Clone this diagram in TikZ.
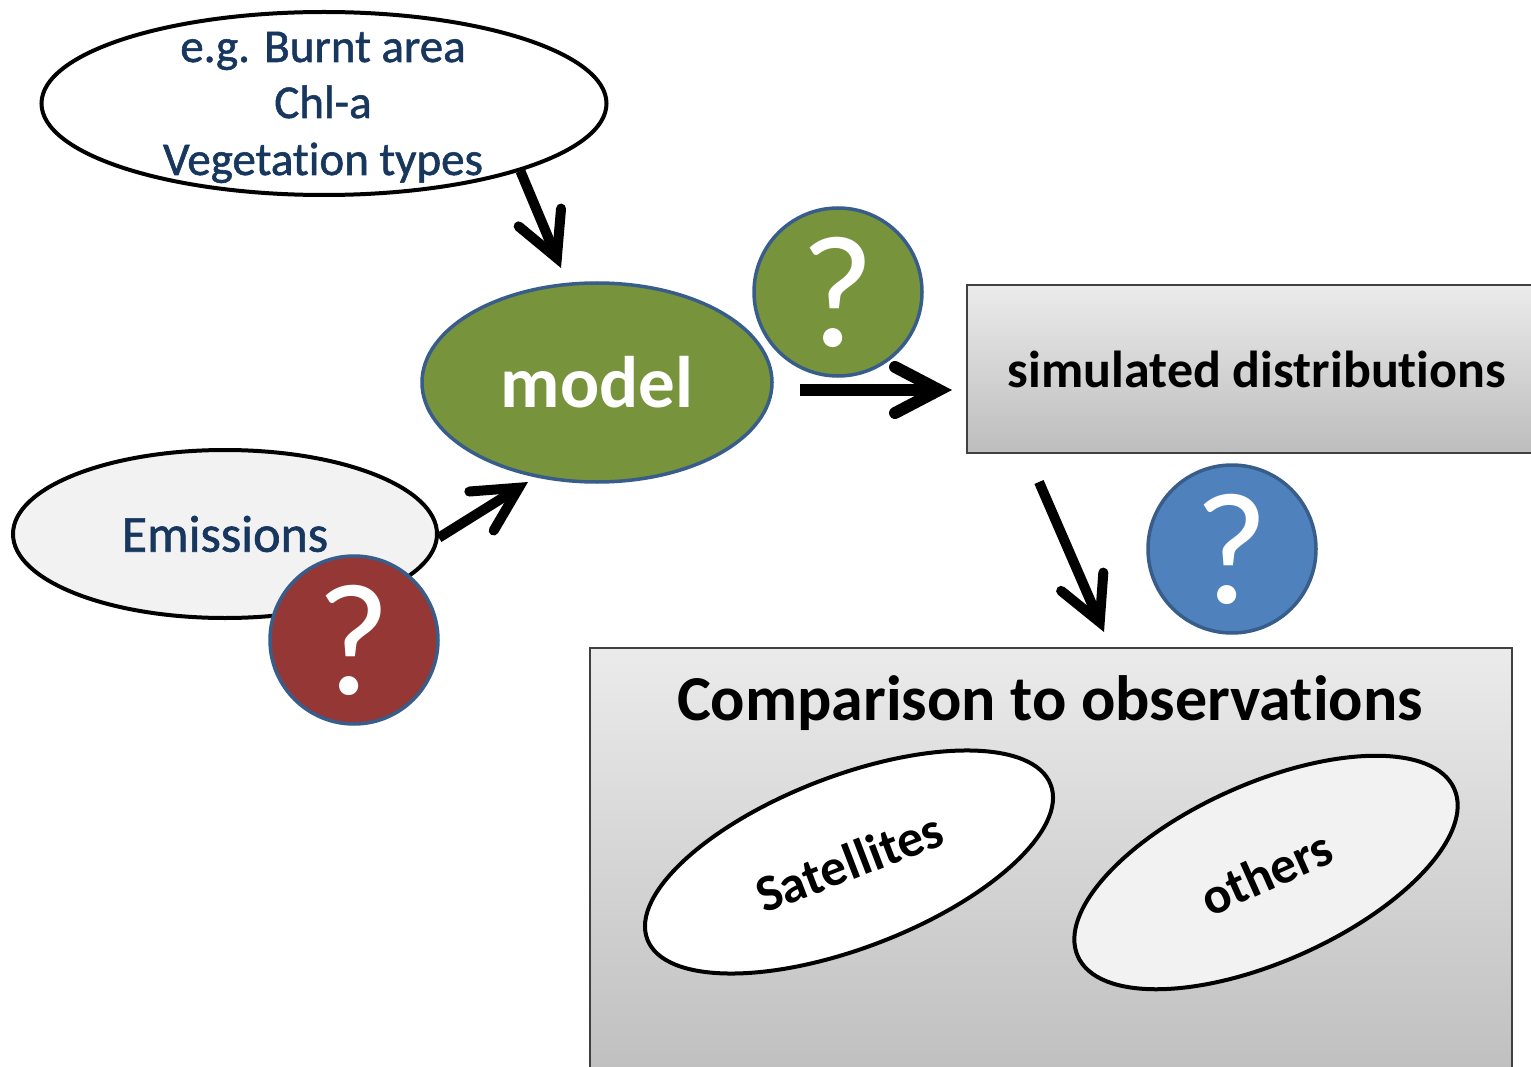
\documentclass[tikz,border=0pt]{standalone}
\usepackage{fontspec}
\setmainfont{Carlito}[Ligatures={NoCommon,NoRequired,NoContextual},Contextuals={NoAlternate},RawFeature={-liga,-clig,-calt}]
\newfontfamily\navyfont{Carlito}[Ligatures={NoCommon,NoRequired,NoContextual},Contextuals={NoAlternate},RawFeature={-liga,-clig,-calt},FakeBold=1.2]
\usetikzlibrary{arrows.meta,shapes.geometric}
\newcommand\nolig{\kern0pt\relax}
\definecolor{mgreen}{HTML}{77933C}
\definecolor{mred}{HTML}{953735}
\definecolor{mblue}{HTML}{4F81BD}
\definecolor{mborder}{HTML}{385D8A}
\definecolor{navytext}{HTML}{17375E}
\definecolor{lightfill}{HTML}{F2F2F2}
\definecolor{boxtop}{HTML}{EBEBEB}
\definecolor{boxbot}{HTML}{BDBDBD}
\begin{document}
\begin{tikzpicture}[x=1pt,y=-1pt,
  oval/.style={ellipse, draw=black, line width=4pt, inner sep=0pt},
  qmark/.style={circle, draw=mborder, line width=3.5pt, minimum size=168pt, inner sep=0pt,
    text=white, font=\fontsize{160}{190}\selectfont},
  greybox/.style={draw=black!75, line width=2pt, top color=boxtop, bottom color=boxbot, inner sep=0pt},
  arr/.style={line width=10pt, -{Straight Barb[length=44pt,width=46pt,line cap=round,line join=miter]}},
  navy/.style={text=navytext, inner sep=0pt},
]
\useasboundingbox (0,0) rectangle (1531,1067);
\clip (0,0) rectangle (1531,1067);

% boxes
\node (sim) [greybox, anchor=north west, minimum width=580pt, minimum height=168pt,
  font=\bfseries\fontsize{52}{62}\selectfont] at (966,284) {simulated distribut\nolig ions};
\node (cmp) [greybox, anchor=north west, minimum width=922pt, minimum height=450pt] at (589,647) {};
\node (cmptitle) [anchor=base, inner sep=0pt, font=\bfseries\fontsize{64}{76}\selectfont]
  at (1050,720) {Comparison to observat\nolig ions};

% top ellipse
\node (top) [oval, fill=white, minimum width=565pt, minimum height=183pt] at (324,103.5) {};
\node (t1) [navy, anchor=base, font=\navyfont\fontsize{47}{57}\selectfont] at (323,62) {e.g. Burnt area};
\node (t2) [navy, anchor=base, font=\navyfont\fontsize{47}{57}\selectfont] at (323,118) {Chl-a};
\node (t3) [navy, anchor=base, font=\navyfont\fontsize{47}{57}\selectfont] at (323,175) {Vegetat\nolig ion types};

% model
\node (model) [ellipse, fill=mgreen, draw=mborder, line width=3.5pt, minimum width=350pt,
  minimum height=199pt, inner sep=0pt, text=white, font=\bfseries\fontsize{73}{86}\selectfont]
  at (597,382.5) {model};
\node (q1) [qmark, fill=mgreen] at (838,292) {?};

% emissions
\node (emis) [oval, fill=lightfill, minimum width=424pt, minimum height=168pt,
  text=navytext, font=\navyfont\fontsize{52}{62}\selectfont] at (225,534) {Emissions};
\node (q2) [qmark, fill=mred] at (354,640) {?};

% blue question
\node (q3) [qmark, fill=mblue] at (1232,549) {?};

% observation ellipses
\node (sat) [oval, fill=white, rotate=21, minimum width=432pt, minimum height=172pt,
  font=\bfseries\fontsize{52}{62}\selectfont] at (849,862) {Satellites};
\node (oth) [oval, fill=lightfill, rotate=24, minimum width=412pt, minimum height=178pt,
  font=\bfseries\fontsize{52}{62}\selectfont] at (1266,872.5) {others};

% arrows
\coordinate (a1e) at (561,268);
\coordinate (a2e) at (528,482);
\coordinate (a3s) at (800,390);
\coordinate (a3e) at (952,390);
\coordinate (a4s) at (1039,482);
\coordinate (a4e) at (1104,632);
\draw[arr] (top.-19) -- (a1e);
\draw[arr] (emis.-1) -- (a2e);
\draw[arr, line width=12pt] (a3s) -- (a3e);
\draw[arr] (a4s) -- (a4e);
\end{tikzpicture}
\end{document}
